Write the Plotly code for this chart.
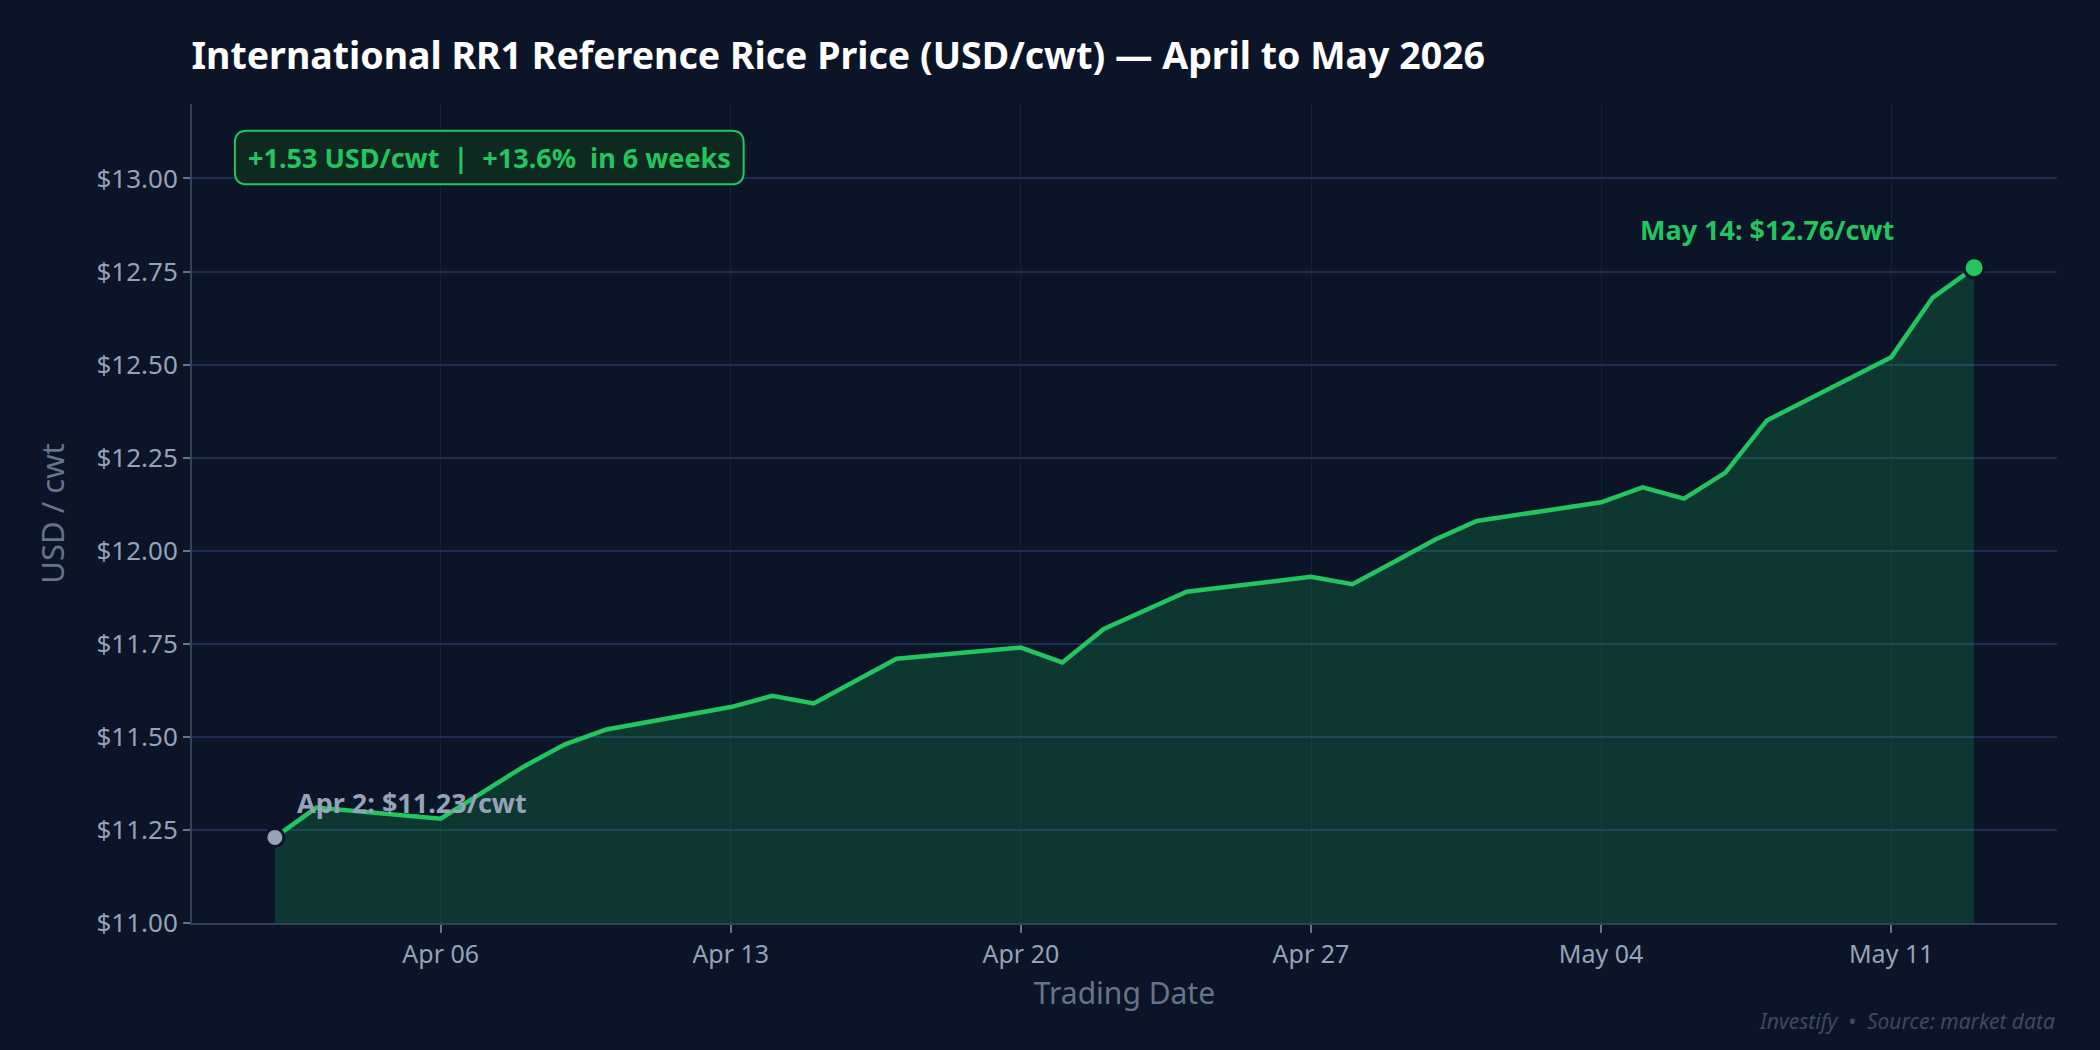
import plotly.graph_objects as go

dates = ["2026-04-02", "2026-04-03", "2026-04-06", "2026-04-07", "2026-04-08", "2026-04-09", "2026-04-10",
         "2026-04-13", "2026-04-14", "2026-04-15", "2026-04-16", "2026-04-17",
         "2026-04-20", "2026-04-21", "2026-04-22", "2026-04-23", "2026-04-24",
         "2026-04-27", "2026-04-28", "2026-04-29", "2026-04-30", "2026-05-01",
         "2026-05-04", "2026-05-05", "2026-05-06", "2026-05-07", "2026-05-08",
         "2026-05-11", "2026-05-12", "2026-05-13"]
prices = [11.23, 11.31, 11.28, 11.35, 11.42, 11.48, 11.52,
          11.58, 11.61, 11.59, 11.65, 11.71,
          11.74, 11.70, 11.79, 11.84, 11.89,
          11.93, 11.91, 11.97, 12.03, 12.08,
          12.13, 12.17, 12.14, 12.21, 12.35,
          12.52, 12.68, 12.76]
y_ticks = [11.00, 11.25, 11.50, 11.75, 12.00, 12.25, 12.50, 12.75, 13.00]
y_tick_labels = ["$11.00", "$11.25", "$11.50", "$11.75", "$12.00", "$12.25", "$12.50", "$12.75", "$13.00"]
x_ticks = ["2026-04-06", "2026-04-13", "2026-04-20", "2026-04-27", "2026-05-04", "2026-05-11"]
x_tick_labels = ["Apr 06", "Apr 13", "Apr 20", "Apr 27", "May 04", "May 11"]

title_text = "International RR1 Reference Rice Price (USD/cwt) — April to May 2026"
start_label = "Apr 2: $11.23/cwt"
end_label = "May 14: $12.76/cwt"
summary_label = "+1.53 USD/cwt  |  +13.6%  in 6 weeks"
footer_text = "Investify  •  Source: market data"

BG = "#0b1527"
GREEN = "#22c55e"
SLATE = "#94a3b8"
FONT = "Noto Sans"

fig = go.Figure()
fig.add_trace(go.Scatter(
    x=dates, y=prices, mode="lines",
    line=dict(color=GREEN, width=4.5),
    fill="tozeroy", fillcolor="rgba(34,197,94,0.20)",
    hoverinfo="skip", showlegend=False,
))
fig.add_trace(go.Scatter(
    x=[dates[0]], y=[prices[0]], mode="markers",
    marker=dict(size=18, color=SLATE, line=dict(color=BG, width=3)),
    showlegend=False, hoverinfo="skip",
))
fig.add_trace(go.Scatter(
    x=[dates[-1]], y=[prices[-1]], mode="markers",
    marker=dict(size=20, color=GREEN, line=dict(color=BG, width=3)),
    showlegend=False, hoverinfo="skip",
))

fig.add_annotation(x=dates[0], y=prices[0], text=f"<b>{start_label}</b>", showarrow=False,
                   xanchor="left", yanchor="middle", xshift=20, yshift=35,
                   font=dict(family=FONT, size=27, color=SLATE))
fig.add_annotation(x=dates[-1], y=prices[-1], text=f"<b>{end_label}</b>", showarrow=False,
                   xanchor="right", yanchor="middle", xshift=-78, yshift=38,
                   font=dict(family=FONT, size=27, color=GREEN))

# rounded summary box (paper coordinates)
bx0, bx1, by0, by1 = 0.0230, 0.2958, 0.9019, 0.9674
rx, ry = 0.0065, 0.0148
box_path = (f"M {bx0+rx},{by0} L {bx1-rx},{by0} Q {bx1},{by0} {bx1},{by0+ry} "
            f"L {bx1},{by1-ry} Q {bx1},{by1} {bx1-rx},{by1} L {bx0+rx},{by1} "
            f"Q {bx0},{by1} {bx0},{by1-ry} L {bx0},{by0+ry} Q {bx0},{by0} {bx0+rx},{by0} Z")
fig.add_shape(type="path", path=box_path, xref="paper", yref="paper",
              fillcolor="#0e2a20", line=dict(color=GREEN, width=2), layer="above")
fig.add_annotation(xref="paper", yref="paper", x=(bx0 + bx1) / 2, y=(by0 + by1) / 2,
                   text=f"<b>{summary_label}</b>", showarrow=False,
                   xanchor="center", yanchor="middle",
                   font=dict(family=FONT, size=27, color=GREEN))
fig.add_annotation(xref="paper", yref="paper", x=1.0, y=-0.1195, text=f"<i>{footer_text}</i>",
                   showarrow=False, xanchor="right", yanchor="middle",
                   font=dict(family=FONT, size=21, color="#3b4a63"))

fig.update_layout(
    width=2100, height=1050,
    paper_bgcolor=BG, plot_bgcolor=BG,
    margin=dict(l=192, r=43, t=104, b=127),
    title=dict(text=f"<b>{title_text}</b>", x=191.5 / 2100, xanchor="left", y=1 - 56 / 1050, yanchor="middle",
               font=dict(family=FONT, size=37.5, color="#ffffff")),
    font=dict(family=FONT, color=SLATE),
    showlegend=False,
)
fig.update_xaxes(
    type="date", range=["2026-03-31", "2026-05-15"],
    tickvals=x_ticks, ticktext=x_tick_labels,
    tickfont=dict(family=FONT, size=25, color=SLATE),
    showgrid=True, gridcolor="#14213a", gridwidth=1,
    showline=True, linecolor="#334155", linewidth=2,
    ticks="outside", ticklen=8, tickcolor="#64748b", tickwidth=2,
    title=dict(text="Trading Date", font=dict(family=FONT, size=30, color="#64748b"), standoff=14),
    zeroline=False,
)
fig.update_yaxes(
    range=[11.0, 13.2],
    tickvals=y_ticks, ticktext=y_tick_labels,
    tickfont=dict(family=FONT, size=26, color=SLATE),
    showgrid=True, gridcolor="#1c2d52", gridwidth=1.5,
    showline=True, linecolor="#334155", linewidth=2,
    ticks="outside", ticklen=7, tickcolor="#64748b", tickwidth=2,
    title=dict(text="USD / cwt", font=dict(family=FONT, size=31, color="#64748b"), standoff=23),
    zeroline=False,
)

fig.write_html("out.html", config={"displayModeBar": False},
               post_script="document.body.style.margin='0';document.body.style.background='#0b1527';")
